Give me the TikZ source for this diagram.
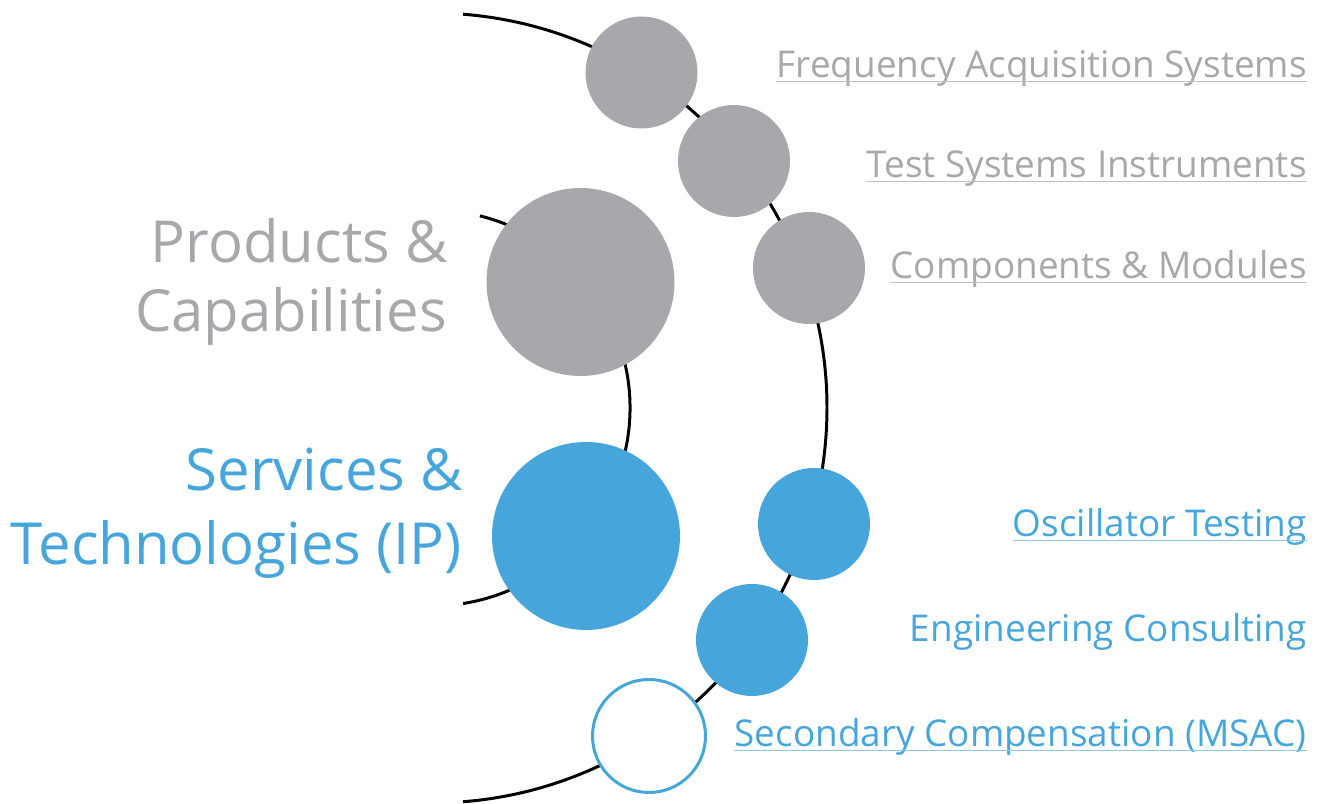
\documentclass[tikz,border=0pt]{standalone}
\usepackage{fontspec}
\setmainfont{Open Sans}
\definecolor{capgray}{HTML}{A6A8AB}
\definecolor{capgrayline}{HTML}{BEC0C2}
\definecolor{srvblue}{HTML}{46A6DC}
\definecolor{srvblueline}{HTML}{8CC8EB}
\tikzset{
  ring/.style={line width=1.7pt,black},
  bigdot/.style={circle,minimum size=3.76cm,inner sep=0pt},
  dot/.style={circle,minimum size=2.24cm,inner sep=0pt},
  item/.style={anchor=base east,inner sep=0pt,font=\fontsize{21}{25}\selectfont},
  title/.style={anchor=base east,inner sep=0pt,font=\fontsize{33}{39}\selectfont},
  uline/.style={line width=0.9pt}
}
\begin{document}
\begin{tikzpicture}
\useasboundingbox (0,0) rectangle (26.4,16.08);

\draw [ring] (8.64,7.92) ++(85.5:7.9) arc (85.5:-85.5:7.9);
\draw [ring] (8.64,7.92) ++(76:3.96) arc (76:-81:3.96);

\node [bigdot,fill=capgray] (prod) at (11.61,10.44) {};
\node [bigdot,fill=srvblue] (serv) at (11.72,5.36) {};

\node [dot,fill=capgray] (freq) at (12.83,14.63) {};
\node [dot,fill=capgray] (test) at (14.68,12.86) {};
\node [dot,fill=capgray] (comp) at (16.18,10.72) {};
\node [dot,fill=srvblue] (osc) at (16.28,5.60) {};
\node [dot,fill=srvblue] (eng) at (15.04,3.28) {};
\node [dot,fill=white,draw=srvblue,line width=1.7pt,minimum size=2.26cm] (msac) at (12.98,1.36) {};

\node [title,capgray] (prodt1) at (8.96,10.82) {Products \&};
\node [title,capgray] (prodt2) at (8.94,9.44) {Capabilities};
\node [title,srvblue] (servt1) at (9.26,6.26) {Services \&};
\node [title,srvblue] (servt2) at (9.24,4.78) {Technologies (IP)};

\node [item,capgray] (freqt) at (26.14,14.52) {Frequency Acquisition Systems};
\node [item,capgray] (testt) at (26.14,12.52) {Test Systems Instruments};
\node [item,capgray] (compt) at (26.14,10.50) {Components \& Modules};
\node [item,srvblue] (osct) at (26.14,5.34) {Oscillator Testing};
\node [item,srvblue] (engt) at (26.14,3.24) {Engineering Consulting};
\node [item,srvblue] (msact) at (26.14,1.14) {Secondary Compensation (MSAC)};

\draw [uline,capgrayline] ([yshift=-2pt]freqt.base west) -- ([yshift=-2pt]freqt.base east);
\draw [uline,capgrayline] ([yshift=-2pt]testt.base west) -- ([yshift=-2pt]testt.base east);
\draw [uline,capgrayline] ([yshift=-2pt]compt.base west) -- ([yshift=-2pt]compt.base east);
\draw [uline,srvblueline] ([yshift=-2pt]osct.base west) -- ([yshift=-2pt]osct.base east);
\draw [uline,srvblueline] ([yshift=-2pt]msact.base west) -- ([yshift=-2pt]msact.base east);

\end{tikzpicture}
\end{document}
